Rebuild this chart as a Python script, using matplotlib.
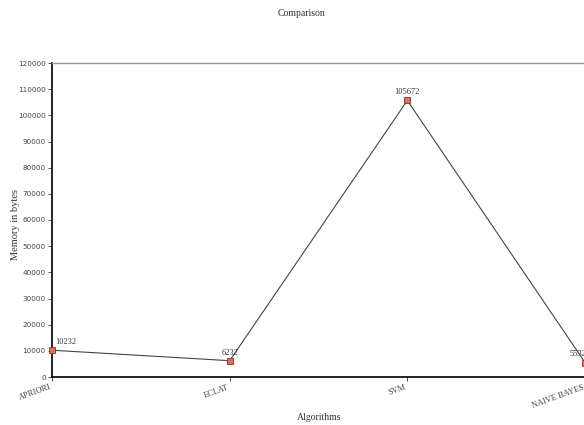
import matplotlib.pyplot as plt

# dados
algorithms = ["APRIORI", "ECLAT", "SVM", "NAIVE BAYES"]
memory = [10232, 6232, 105672, 5532]
yticks = list(range(0, 120001, 10000))

fig = plt.figure(figsize=(5.84, 4.25), dpi=100)
W, H = 584, 425
left, right = 52, 610
bottom, top = 377, 63
ax = fig.add_axes([left / W, (H - bottom) / H, (right - left) / W, (bottom - top) / H])

x = list(range(len(algorithms)))
ax.plot(x, memory, color="#444444", linewidth=0.8, marker="s", markersize=4.5,
        markerfacecolor="#d9735a", markeredgecolor="#8b2e1e", markeredgewidth=0.6,
        zorder=3, clip_on=False)

# rotulos de valor: o primeiro a direita do eixo, o ultimo puxado para a esquerda
offsets = [(2, "left"), (0, "center"), (0, "center"), (-5, "center")]
for i, v in enumerate(memory):
    dx, ha = offsets[i]
    ax.annotate(str(v), xy=(i, v), xytext=(dx, 3), textcoords="offset points",
                ha=ha, va="bottom", fontsize=6, color="#333333",
                family="Liberation Serif")

ax.set_xlim(0, (right - left) / ((585 - left) / 3))
ax.set_ylim(0, 120000)
ax.set_yticks(yticks)
ax.set_yticklabels([str(t) for t in yticks], fontsize=5.2, color="#444444")
ax.set_xticks(x)
ax.set_xticklabels(algorithms, rotation=20, ha="right", fontsize=6,
                   color="#444444", family="Liberation Serif")
ax.tick_params(axis="both", length=3, width=0.6, color="#333333", pad=1.5)

ax.spines["left"].set_linewidth(1.2)
ax.spines["bottom"].set_linewidth(1.2)
ax.spines["top"].set_color("#999999")
ax.spines["top"].set_linewidth(1.0)

ax.set_xlabel("Algorithms", fontsize=7, family="Liberation Serif", color="#333333")
ax.set_ylabel("Memory in bytes", fontsize=7.5, family="Liberation Serif", color="#333333")
ax.xaxis.set_label_coords((319 - left) / (right - left), -(418 - bottom) / (bottom - top))
ax.yaxis.set_label_coords(-(52 - 15) / (right - left), (bottom - 225) / (bottom - top))
ax.xaxis.label.set_va("center")
ax.yaxis.label.set_va("center")
fig.text(301 / W, 1 - 14 / H, "Comparison", ha="center", va="center",
         fontsize=7, family="Liberation Serif", color="#333333")

plt.savefig("out.png", dpi=100)
